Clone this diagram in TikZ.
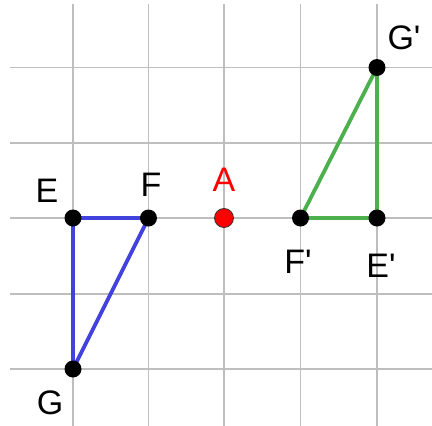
\documentclass[tikz,border=0pt]{standalone}
\usepackage{fontspec}
\setmainfont{Liberation Sans}
\definecolor{gridgray}{RGB}{190,190,190}
\definecolor{triblue}{RGB}{66,66,220}
\definecolor{trigreen}{RGB}{76,176,76}
\begin{document}
\begin{tikzpicture}[x=1pt,y=-1pt,
  gridline/.style={draw=gridgray,line width=1.8pt},
  pt/.style={circle,fill=black,inner sep=0pt,minimum size=17pt},
  ptA/.style={circle,fill=red,draw=black!80,line width=0.8pt,inner sep=0pt,minimum size=19pt},
  lbl/.style={font=\fontsize{34}{38}\selectfont,inner sep=0pt},
  side/.style={line width=3.8pt,line cap=round}]
\useasboundingbox (0,0) rectangle (432,426);
\fill[white] (0,0) rectangle (432,426);
% grid
\foreach \x in {73,148.5,224,300.5,377}
  \draw[gridline] (\x,4) -- (\x,426);
\foreach \y in {67.5,143,218,294,369}
  \draw[gridline] (10,\y) -- (432,\y);
% coordinates
\coordinate (E) at (73,218);
\coordinate (F) at (148.5,218);
\coordinate (G) at (73,369);
\coordinate (Ep) at (377,218);
\coordinate (Fp) at (300.5,218);
\coordinate (Gp) at (377,67.5);
% triangles
\draw[side,triblue] (E) -- (F) -- (G) -- cycle;
\draw[side,trigreen] (Ep) -- (Fp) -- (Gp) -- cycle;
% points
\node[pt] (nE) at (E) {};
\node[pt] (nF) at (F) {};
\node[pt] (nG) at (G) {};
\node[pt] (nEp) at (Ep) {};
\node[pt] (nFp) at (Fp) {};
\node[pt] (nGp) at (Gp) {};
\node[ptA] (A) at (224,218) {};
% labels
\node[lbl] (lE) at (47,191) {E};
\node[lbl] (lF) at (151,185) {F};
\node[lbl,text=red] (lA) at (224,180) {A};
\node[lbl] (lG) at (50,403) {G};
\node[lbl] (lEp) at (381,266) {E\textquotesingle};
\node[lbl] (lFp) at (298,262) {F\textquotesingle};
\node[lbl] (lGp) at (404,38) {G\textquotesingle};
\end{tikzpicture}
\end{document}
